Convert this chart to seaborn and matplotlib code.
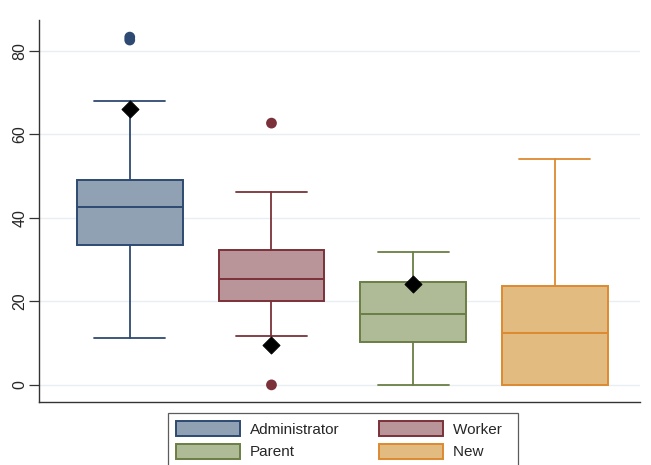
import matplotlib
matplotlib.use("Agg")
import matplotlib.pyplot as plt
from matplotlib.patches import Patch
import seaborn as sns
import pandas as pd

# Group summaries
groups = ["Administrator", "Worker", "Parent", "New"]
whisker_low = [11.3, 11.7, 0.0, 0.0]
q1 = [33.4, 20.0, 10.3, 0.0]
median = [42.7, 25.3, 16.9, 12.5]
q3 = [49.1, 32.3, 24.7, 23.8]
whisker_high = [68.0, 46.2, 31.9, 54.0]
outliers = [[83.3, 82.6], [62.7, 0.0], [], []]
# Highlighted reference value per group (None where absent)
marked = [66.1, 9.6, 24.1, None]

fills = ["#90a1b4", "#b99498", "#aebb96", "#e2bb80"]
edges = ["#2e4a72", "#7b3139", "#6a7e45", "#dc8a30"]

sns.set_theme(style="white")
plt.rcParams["font.family"] = ["Liberation Sans", "DejaVu Sans"]

fig = plt.figure(figsize=(6.51, 4.65), dpi=100)
ax = fig.add_axes([0.060, 0.1355, 0.923, 0.8215])

positions = list(range(len(groups)))
box_w = 0.746

for i, g in enumerate(groups):
    stats = [dict(whislo=whisker_low[i], q1=q1[i], med=median[i], q3=q3[i],
                  whishi=whisker_high[i], fliers=[], label=g)]
    ax.bxp(stats, positions=[i], widths=box_w, patch_artist=True,
           showfliers=False, manage_ticks=False,
           boxprops=dict(facecolor=fills[i], edgecolor=edges[i], linewidth=1.4),
           medianprops=dict(color=edges[i], linewidth=1.4),
           whiskerprops=dict(color=edges[i], linewidth=1.3),
           capprops=dict(color=edges[i], linewidth=1.3),
           capwidths=box_w * 0.67)

# Outside points
out_df = pd.DataFrame([(i, v, groups[i]) for i in positions for v in outliers[i]],
                      columns=["pos", "value", "group"])
sns.scatterplot(data=out_df, x="pos", y="value", hue="group",
                palette=dict(zip(groups, edges)), s=60, edgecolor="none",
                legend=False, ax=ax, zorder=4)

# Diamond markers
mk_df = pd.DataFrame([(i, v) for i, v in enumerate(marked) if v is not None],
                     columns=["pos", "value"])
sns.scatterplot(data=mk_df, x="pos", y="value", marker="D", color="black",
                s=75, edgecolor="black", legend=False, ax=ax, zorder=5)

ax.set_xlim(-0.64, 3.6)
ax.set_ylim(-4.1, 87.4)
ax.set_yticks([0, 20, 40, 60, 80])
ax.set_xticks([])
ax.set_xlabel("")
ax.set_ylabel("")
ax.yaxis.grid(True, color="#e8eef1", linewidth=1.0)
ax.set_axisbelow(True)
for s in ["top", "right"]:
    ax.spines[s].set_visible(False)
for s in ["left", "bottom"]:
    ax.spines[s].set_color("#333333")
    ax.spines[s].set_linewidth(1.0)
ax.tick_params(axis="y", left=True, length=7, width=0.9, color="#333333",
               labelsize=11.5, pad=1.5)
for lbl in ax.get_yticklabels():
    lbl.set_rotation(90)
    lbl.set_va("center")

handles = [Patch(facecolor=f, edgecolor=e, linewidth=1.4) for f, e in zip(fills, edges)]
order = [0, 2, 1, 3]
labels = [groups[k] for k in order]
# right-hand column carries a little extra trailing room in the key
labels = [lab + ("  " if k in (1, 3) else "") for lab, k in zip(labels, order)]
leg = fig.legend([handles[k] for k in order], labels,
                 loc="upper left", bbox_to_anchor=(168 / 651, 1 - 413 / 465),
                 borderaxespad=0, ncol=2, fontsize=11, frameon=True,
                 fancybox=False, edgecolor="#333333", handlelength=4.2,
                 handleheight=1.2, handletextpad=0.65, columnspacing=2.6,
                 labelspacing=0.45, borderpad=0.5)
leg.get_frame().set_linewidth(0.9)

fig.savefig("out.png", dpi=100)
